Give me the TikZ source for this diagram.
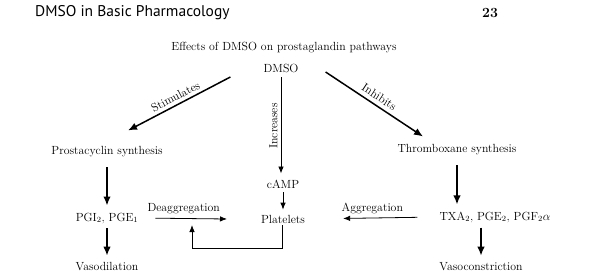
\documentclass[tikz,border=0pt]{standalone}
\usepackage{fontspec}
\newfontfamily\headfont{PT Sans}
\usetikzlibrary{arrows.meta}

\begin{document}
\begin{tikzpicture}[
  x=1pt, y=-1pt,
  txt/.style={font=\fontsize{11.8}{14}\selectfont, inner sep=2pt},
  bigarrow/.style={-{Latex[length=9pt,width=7.5pt]}, line width=1.5pt},
  thinarrow/.style={-{Latex[length=7pt,width=5.5pt]}, line width=0.8pt}
]
\fill[white] (0,0) rectangle (591,278);
\useasboundingbox (0,0) rectangle (591,278);

% page header
\node[font=\headfont\fontsize{15.5}{18}\selectfont, anchor=west, inner sep=0pt] (head) at (35,13) {DMSO in Basic Pharmacology};
\node[font=\bfseries\fontsize{14}{16}\selectfont, inner sep=0pt] (pagenum) at (490,13) {23};

\node[txt] (title) at (284,48) {Effects of DMSO on prostaglandin pathways};
\node[txt] (dmso) at (281,68) {DMSO};

\node[txt] (prosta) at (107,152) {Prostacyclin synthesis};
\node[txt] (thromb) at (457,150) {Thromboxane synthesis};
\node[txt] (camp) at (283,184) {cAMP};
\node[txt] (plat) at (283,219) {Platelets};
\node[txt] (pgi) at (107,218) {PGI$_2$, PGE$_1$};
\node[txt] (txa) at (495,217) {TXA$_2$, PGE$_2$, PGF$_2\alpha$};
\node[txt] (vasod) at (107,267) {Vasodilation};
\node[txt] (vasoc) at (481,267) {Vasoconstriction};

\coordinate (deagend) at (227,219);
\coordinate (fbcorner) at (192,248);
\coordinate (fbend) at (192,225);

% from DMSO
\draw[bigarrow] ([xshift=-31pt,yshift=-9pt]dmso.west) -- ([xshift=21pt,yshift=14pt]prosta.north)
  node[txt, midway, sloped, above=1pt] {Stimulates};
\draw[bigarrow] ([xshift=25pt,yshift=-4pt]dmso.east) -- ([xshift=-34pt,yshift=6pt]thromb.north)
  node[txt, midway, sloped, above=2pt] {Inhibits};
\draw[thinarrow, shorten <=3pt, shorten >=4pt] (dmso.south) -- (dmso.south |- camp.north)
  node[txt, midway, rotate=90, anchor=south, inner sep=3pt] {Increases};
\draw[thinarrow, shorten <=2pt, shorten >=3pt] (camp.south) -- (camp.south |- plat.north);

% left branch
\draw[bigarrow, shorten <=8pt, shorten >=5pt] (prosta.south) -- (pgi.north);
\draw[bigarrow, shorten <=3pt, shorten >=5pt] (pgi.south) -- (vasod.north);
\draw[thinarrow, shorten <=15pt] (pgi.east) -- (deagend)
  node[txt, midway, above=2pt] {Deaggregation};

% right branch
\draw[bigarrow, shorten <=8pt, shorten >=5pt] (thromb.south) -- (thromb.south |- txa.north);
\draw[bigarrow, shorten <=3pt, shorten >=5pt] (vasoc.north |- txa.south) -- (vasoc.north);
\draw[thinarrow, shorten <=20pt, shorten >=36pt] (txa.west) -- (plat.east)
  node[txt, midway, above=2pt] {Aggregation};

% feedback
\draw[thinarrow] ([xshift=-1pt]plat.south) |- (fbcorner) -- (fbend);
\end{tikzpicture}
\end{document}
